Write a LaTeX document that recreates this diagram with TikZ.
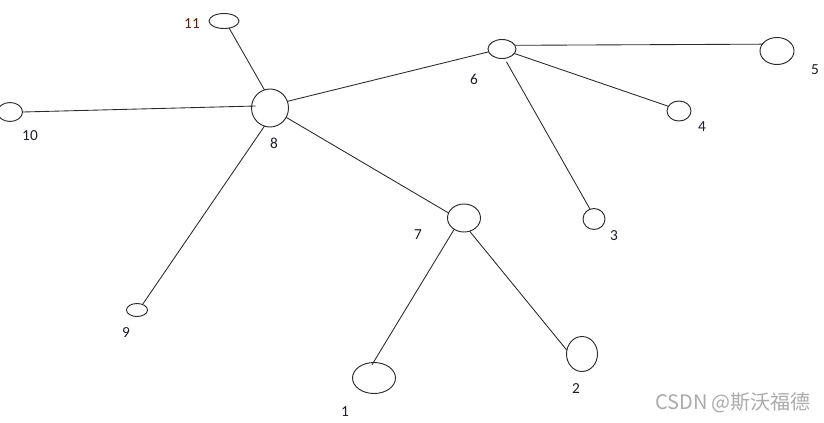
\documentclass[tikz,border=0pt]{standalone}
\usepackage{fontspec}
\setmainfont{Carlito}
\newfontfamily\cjkwm{Noto Sans CJK SC}
\usetikzlibrary{shapes.geometric,calc}
\definecolor{lbl}{HTML}{1C1C2C}
\definecolor{lblred}{HTML}{5E1A0A}
\definecolor{wm}{HTML}{ABABAB}
\definecolor{ln}{HTML}{2A2A2A}
\tikzset{
  el/.style={ellipse, draw=ln, line width=0.7pt, inner sep=0pt, outer sep=0pt},
  lab/.style={font=\fontsize{11.5}{13}\selectfont, text=lbl, inner sep=0pt},
  edge/.style={draw=ln, line width=0.65pt}
}
\newcommand{\Ell}[5]{\node[el, minimum width=#4*0.75pt, minimum height=#5*0.75pt] (#1) at (#2,#3) {};}
\begin{document}
\begin{tikzpicture}[x=0.75pt,y=-0.75pt]
\useasboundingbox[fill=white] (0,0) rectangle (824,422);
% ellipses
\Ell{n11}{224}{21}{30}{15}
\Ell{n8}{270}{108}{37}{38}
\Ell{n6}{502}{49}{28}{19}
\Ell{n5}{777}{51}{34}{27}
\Ell{n10}{10}{112}{25}{19}
\Ell{n4}{679}{111}{24}{20}
\Ell{n7}{464}{218}{33}{28}
\Ell{n3}{594}{219}{22}{21}
\Ell{n9}{137}{310}{21}{13}
\Ell{n2}{582}{354}{31}{35}
\Ell{n1}{374}{378}{43}{31}
% labels
\node[lab, text=lblred] (l11) at (192,24) {11};
\node[lab] (l6) at (474,79) {6};
\node[lab] (l5) at (815,70) {5};
\node[lab] (l10) at (30,136) {10};
\node[lab] (l8) at (274,143) {8};
\node[lab] (l4) at (702,127) {4};
\node[lab] (l7) at (418,235) {7};
\node[lab] (l3) at (614,236) {3};
\node[lab] (l9) at (126,333) {9};
\node[lab] (l2) at (576,389) {2};
\node[lab] (l1) at (345,412) {1};
% connectors
\path[edge] (n11.-54) -- (n8.107);
\path[edge] (n10.east) -- ($(n8.west)+(4,-2)$);
\path[edge] (n8.21) -- (n6.192);
\path[edge] (n8.-107) -- (n9.45);
\path[edge] (n8.-30) -- (n7.162);
\path[edge] (n6.16) -- (n5.155);
\path[edge] (n6.-20) -- (n4.156);
\path[edge, shorten <=3pt] (n6.-75) -- (n3.112);
\path[edge] (n7.-131) -- ($(n1.97)+(0,2)$);
\path[edge] (n7.-67) -- (n2.166);
% watermark
\node[font=\cjkwm\fontsize{15}{17}\selectfont, text=wm, inner sep=0pt] (wm) at (733,403) {CSDN @斯沃福德};
\end{tikzpicture}
\end{document}
